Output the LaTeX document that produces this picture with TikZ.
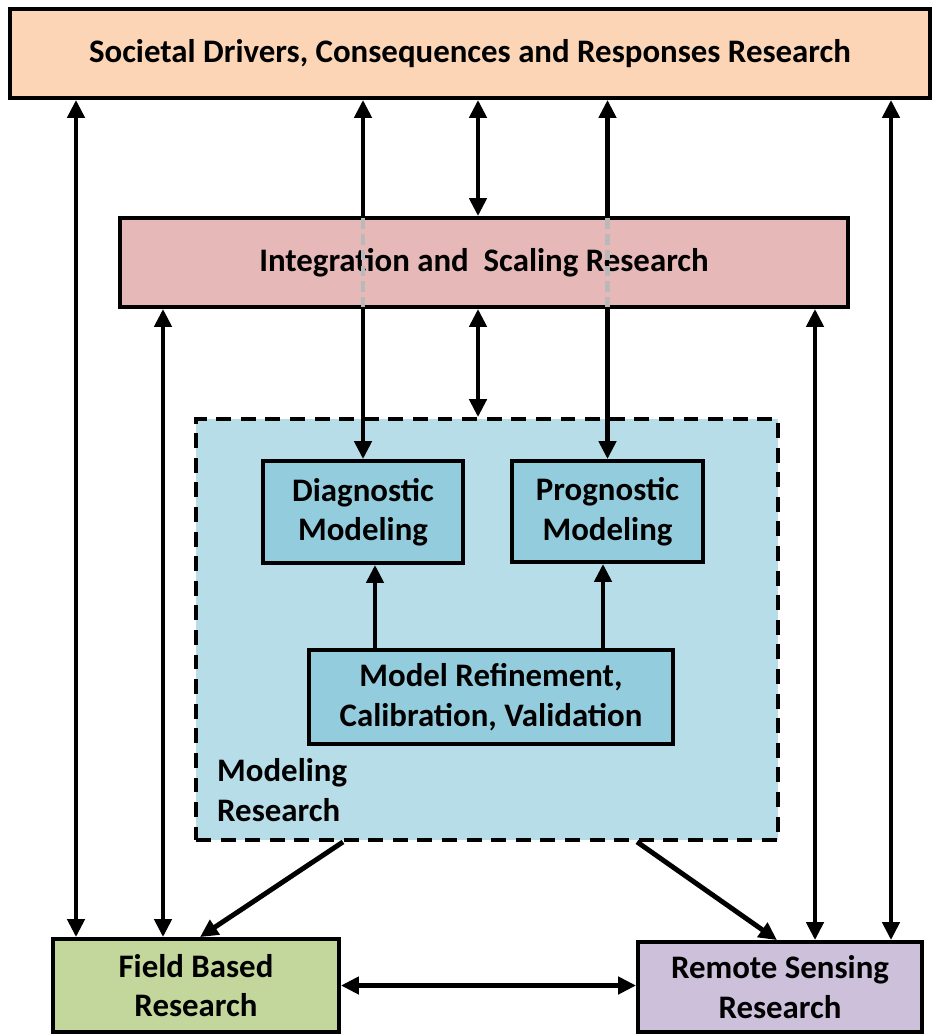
\documentclass[tikz,border=0pt]{standalone}
\usepackage{fontspec}
\setmainfont{Carlito}
\usetikzlibrary{arrows.meta}
\definecolor{peach}{HTML}{FBD5B5}
\definecolor{rose}{HTML}{E6B8B7}
\definecolor{skyblue}{HTML}{B7DDE8}
\definecolor{midblue}{HTML}{93CDDD}
\definecolor{leaf}{HTML}{C3D69B}
\definecolor{lilac}{HTML}{CCC0DA}
\tikzset{%
	>={Triangle[width=3.4mm,length=3.6mm]},
	% Specifications for style of nodes:
	base/.style = {rectangle, draw=black, line width=2.2pt,
		text centered, align=center, inner sep=0pt,
		font=\fontsize{18.7}{22.5}\selectfont\bfseries},
	societal/.style = {base, fill=peach},
	integ/.style = {base, fill=rose},
	modelbox/.style = {base, fill=midblue},
	field/.style = {base, fill=leaf},
	remote/.style = {base, fill=lilac},
	link/.style = {line width=2.8pt}
}
\begin{document}
\begin{tikzpicture}[x=0.02cm, y=-0.02cm]
	\useasboundingbox (0,0) rectangle (932,1034);
	% Specification of nodes (position, etc.)
	\node (societal) [societal, minimum width=18.4cm, minimum height=1.78cm] at (470,53.5)
		{Societal Drivers, Consequences and Responses Research};
	\node (modeling) [rectangle, draw=black, dash pattern=on 8.5pt off 5.5pt, line width=2.2pt,
		fill=skyblue, minimum width=11.64cm, minimum height=8.42cm] at (487,629.5) {};
	\node (diag)     [modelbox, minimum width=4cm, minimum height=2.04cm] at (363,512)
		{Diagnostic\\Modeling};
	\node (prog)     [modelbox, minimum width=3.82cm, minimum height=2.02cm] at (607.5,511.5)
		{Prognostic\\Modeling};
	\node (refine)   [modelbox, minimum width=7.28cm, minimum height=1.88cm] at (491,697)
		{Model Refinement,\\Calibration, Validation};
	\node (modlabel) [anchor=west, align=left, font=\fontsize{18.7}{22.5}\selectfont\bfseries] at (211,790)
		{Modeling\\Research};
	\node (field)    [field, minimum width=5.72cm, minimum height=1.86cm] at (196,985.5)
		{Field Based\\Research};
	\node (remote)   [remote, minimum width=5.68cm, minimum height=1.8cm] at (780,987)
		{Remote Sensing\\Research};

	% x positions of the vertical links
	\coordinate (c1) at (76,0);
	\coordinate (c2) at (163,0);
	\coordinate (c4) at (478,0);
	\coordinate (c6) at (815,0);
	\coordinate (c7) at (891,0);
	\coordinate (r1) at (375,0);
	\coordinate (r2) at (603,0);
	\coordinate (d1) at (343,0);
	\coordinate (d2) at (200,0);
	\coordinate (d3) at (637,0);
	\coordinate (d4) at (777,0);

	% long links through the integration box
	\draw[<->, link] (societal.south -| diag.north) -- (diag.north);
	\draw[<->, link] (societal.south -| prog.north) -- (prog.north);

	\node (integ)    [integ, minimum width=14.56cm, minimum height=1.78cm] at (484,262.5)
		{Integration and \ Scaling Research};
	\draw[gray!55, dash pattern=on 6pt off 3pt, line width=2.4pt] ([yshift=-1.2pt]integ.north -| diag.north) -- ([yshift=1.2pt]integ.south -| diag.north);
	\draw[gray!55, dash pattern=on 6pt off 3pt, line width=2.4pt] ([yshift=-1.2pt]integ.north -| prog.north) -- ([yshift=1.2pt]integ.south -| prog.north);

	\draw[<->, link] (societal.south -| c1) -- (field.north -| c1);
	\draw[<->, link] (integ.south -| c2) -- (field.north -| c2);
	\draw[<->, link] (societal.south -| c4) -- (integ.north -| c4);
	\draw[<->, link] (integ.south -| c4) -- (modeling.north -| c4);
	\draw[<->, link] (integ.south -| c6) -- (remote.north -| c6);
	\draw[<->, link] (societal.south -| c7) -- (remote.north -| c7);
	\draw[->, link] (refine.north -| r1) -- (diag.south -| r1);
	\draw[->, link] (refine.north -| r2) -- (prog.south -| r2);
	\draw[->, link] (modeling.south -| d1) -- (field.north -| d2);
	\draw[->, link] (modeling.south -| d3) -- (remote.north -| d4);
	\draw[<->, link] (field.east) -- (field.east -| remote.west);
\end{tikzpicture}
\end{document}
